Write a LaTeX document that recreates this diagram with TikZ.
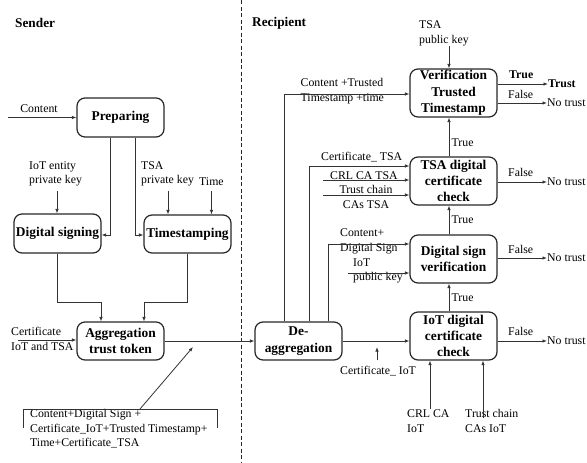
\documentclass[tikz,border=0pt]{standalone}
\usepackage{fontspec}
\setmainfont{Liberation Serif}
\usetikzlibrary{arrows.meta}
\begin{document}
\begin{tikzpicture}[x=1pt,y=-1pt,
  line/.style={draw=black!80, line width=0.8pt},
  arr/.style={line, -{Latex[length=4.5pt,width=3.5pt]}},
  box/.style={draw=black!85, line width=1.2pt, rounded corners=8pt, minimum width=87pt, align=center, inner sep=0pt, font=\bfseries\fontsize{13.4}{16.3}\selectfont},
  lbl/.style={inner sep=0pt, align=left, font=\fontsize{11.8}{14.5}\selectfont},
  blbl/.style={inner sep=0pt, font=\bfseries\fontsize{11.8}{14.5}\selectfont},
  head/.style={inner sep=0pt, font=\bfseries\fontsize{13.3}{16}\selectfont},
]
\useasboundingbox (0,0) rectangle (587,463);
% divider
\draw[black!85, line width=0.8pt, dash pattern=on 4pt off 2.5pt] (241,0) -- (241,463);
\node[head, anchor=west] (sender) at (15,23) {Sender};
\node[head, anchor=west] (recip) at (252,23) {Recipient};

% boxes
\node[box, minimum height=39pt] (prep) at (120.5,117.5) {Preparing};
\node[box, minimum height=39pt] (dsig) at (57.5,233.5) {Digital signing};
\node[box, minimum height=38pt] (tst) at (187.5,234) {Timestamping};
\node[box, minimum height=38pt] (agg) at (120.5,341) {Aggregation\\trust token};
\node[box, minimum height=38pt] (deagg) at (298.5,341) {De-\\aggregation};
\node[box, minimum height=48pt] (ver) at (453.5,93) {Verification\\Trusted\\Timestamp};
\node[box, minimum height=48pt] (tsac) at (453.5,181) {TSA digital\\certificate\\check};
\node[box, minimum height=48pt] (dsv) at (453.5,259) {Digital sign\\verification};
\node[box, minimum height=48pt] (iotc) at (453.5,336) {IoT digital\\certificate\\check};

% sender labels
\node[lbl] (content) at (39,109) {Content};
\node[lbl, anchor=west] (kiot) at (29,174) {IoT entity\\private key};
\node[lbl, anchor=west] (ktsa) at (141,174) {TSA\\private key};
\node[lbl, anchor=west] (time) at (199,182) {Time};
\node[lbl, anchor=west] (certin) at (11,339) {Certificate\\IoT and TSA};
\node[lbl, anchor=west] (bundle) at (30,429) {Content+Digital Sign +\\Certificate\_IoT+Trusted Timestamp+\\Time+Certificate\_TSA};

% sender connectors
\coordinate (cin) at (8,117.5);
\draw[arr] (cin) -- (prep.west);
\draw[arr] (prep.south -| 110,0) |- (dsig.east |- 0,235);
\draw[arr] (prep.south -| 135,0) |- (tst.west |- 0,235);
\coordinate (kiote) at (57,191);
\draw[arr] (kiote) -- (kiote |- dsig.north);
\coordinate (ktsae) at (168,191);
\draw[arr] (ktsae) -- (ktsae |- tst.north);
\coordinate (timee) at (211.5,191);
\draw[arr] (timee) -- (timee |- tst.north);
\draw[arr] (dsig.south) |- (101,302) -- (agg.north -| 101,0);
\draw[arr] (tst.south) |- (144,302) -- (agg.north -| 144,0);
\coordinate (cst) at (18,340);
\draw[arr] (cst) -- (cst -| agg.west);
\draw[arr] (agg.east) -- (deagg.west);
\coordinate (bt) at (140,409);
\coordinate (dtip) at (193,347);
\draw[arr] (bt) -- (dtip);
\draw[line] (23,428) -- (23,409) -- (217,409) -- (217,428);

% recipient labels
\node[lbl, anchor=west] (tsapub) at (419,33.5) {TSA\\public key};
\node[lbl, anchor=west] (cttime) at (300.5,91) {Content +Trusted\\Timestamp +time};
\node[lbl, anchor=west] (certtsa) at (321,157) {Certificate\_ TSA};
\node[lbl, anchor=west] (crltsa) at (330,175.5) {CRL CA TSA};
\node[lbl, align=center] (tctsa) at (366,197) {Trust chain\\CAs TSA};
\node[lbl, anchor=west] (cds) at (340,241.5) {Content+\\Digital Sign};
\node[lbl, anchor=west] (iotpk) at (353,271) {IoT\\public key};
\node[lbl, anchor=west] (certiot) at (340,371) {Certificate\_ IoT};
\node[lbl, anchor=west] (crliot) at (407,421) {CRL CA\\IoT};
\node[lbl, anchor=west] (tciot) at (465,421) {Trust chain\\CAs IoT};

% recipient connectors
\coordinate (tpk) at (449,46);
\draw[arr] (tpk) -- (tpk |- ver.north);
\draw[arr] (deagg.north -| 284,0) |- (ver.west |- 0,94);
\draw[arr] (deagg.north -| 309,0) |- (tsac.west |- 0,166);
\coordinate (crl1) at (323,180);
\draw[arr] (crl1) -- (crl1 -| tsac.west);
\coordinate (tc1) at (323,195);
\draw[arr] (tc1) -- (tc1 -| tsac.west);
\draw[arr] (deagg.north -| 328,0) |- (dsv.west |- 0,244);
\coordinate (ipk) at (348,273);
\draw[arr] (ipk) -- (ipk -| dsv.west);
\draw[arr] (deagg.east) -- (deagg.east -| iotc.west);
\coordinate (cib) at (377,360);
\coordinate (cit) at (377,347);
\draw[arr] (cib) -- (cit);
\coordinate (crl2) at (430,409);
\draw[arr] (crl2) -- (crl2 |- iotc.south);
\coordinate (tc2) at (483,418);
\draw[arr] (tc2) -- (tc2 |- iotc.south);

% True chain
\draw[arr] (iotc.north -| 449,0) -- (dsv.south -| 449,0);
\node[lbl, anchor=west] (t1) at (451.5,298) {True};
\draw[arr] (dsv.north -| 449,0) -- (tsac.south -| 449,0);
\node[lbl, anchor=west] (t2) at (451.5,220) {True};
\draw[arr] (tsac.north -| 449,0) -- (ver.south -| 449,0);
\node[lbl, anchor=west] (t3) at (451.5,143) {True};

% outputs
\node[blbl, anchor=west] (trust) at (548,84) {Trust};
\node[blbl, anchor=west] (tv) at (509,75) {True};
\draw[arr] (ver.east |- trust) -- (trust.west);
\node[lbl, anchor=west] (nt1) at (547,103) {No trust};
\node[lbl, anchor=west] (f1) at (508,94) {False};
\draw[arr] (ver.east |- nt1) -- (nt1.west);
\node[lbl, anchor=west] (nt2) at (547,182) {No trust};
\node[lbl, anchor=west] (f2) at (508,172) {False};
\draw[arr] (tsac.east |- nt2) -- (nt2.west);
\node[lbl, anchor=west] (nt3) at (547,258) {No trust};
\node[lbl, anchor=west] (f3) at (508,249) {False};
\draw[arr] (dsv.east |- nt3) -- (nt3.west);
\node[lbl, anchor=west] (nt4) at (547,341) {No trust};
\node[lbl, anchor=west] (f4) at (508,331) {False};
\draw[arr] (iotc.east |- nt4) -- (nt4.west);
\end{tikzpicture}
\end{document}
